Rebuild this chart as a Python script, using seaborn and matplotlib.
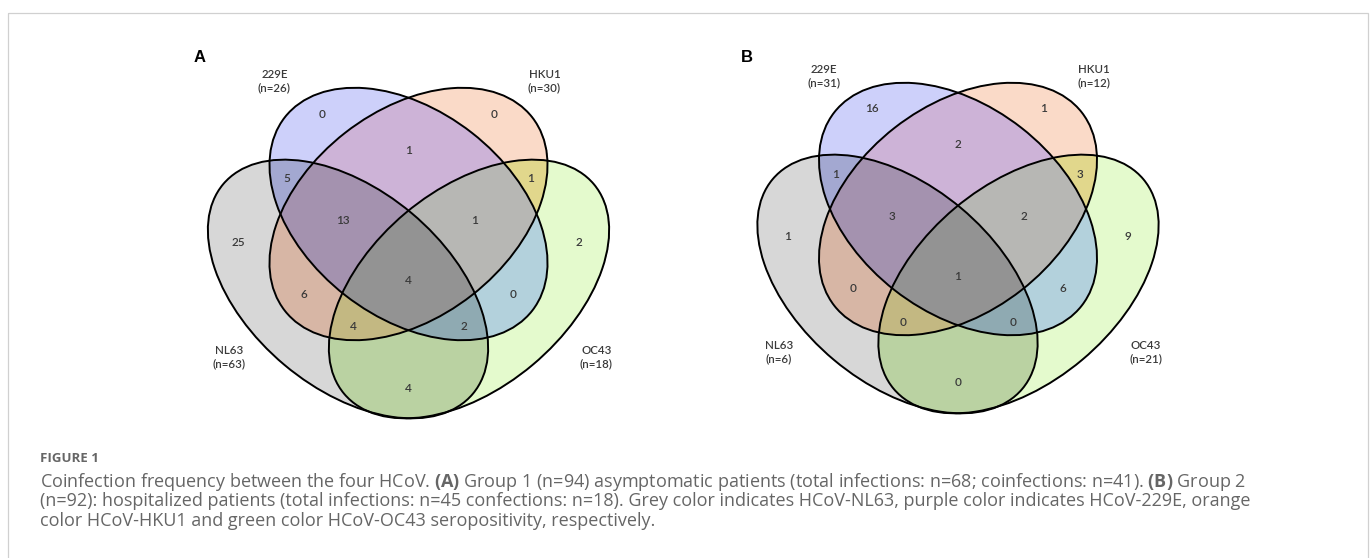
import matplotlib
matplotlib.use("Agg")
import matplotlib.colors as mcolors
import matplotlib.pyplot as plt
import numpy as np
import seaborn as sns
from matplotlib.patches import Ellipse, Rectangle

# 数据: 四种HCoV的血清阳性交叉频数
set_codes = ["E", "H", "N", "O"]
set_names = ["229E", "HKU1", "NL63", "OC43"]
totals_a = [26, 30, 63, 18]
totals_b = [31, 12, 6, 21]

region_keys = ["E", "H", "N", "O", "EH", "EN", "HO", "EHN", "EHO",
               "EHNO", "HN", "EO", "HNO", "ENO", "NO"]
counts_a = [0, 0, 25, 2, 1, 5, 1, 13, 1, 4, 6, 0, 4, 2, 4]
counts_b = [16, 1, 1, 9, 2, 1, 3, 3, 2, 1, 0, 6, 0, 0, 0]
panel_letters = ["A", "B"]

caption_lines = [
    "Coinfection frequency between the four HCoV. $\\mathbf{(A)}$ Group 1 (n=94) asymptomatic patients "
    "(total infections: n=68; coinfections: n=41). $\\mathbf{(B)}$ Group 2",
    "(n=92): hospitalized patients (total infections: n=45 confections: n=18). Grey color indicates "
    "HCoV-NL63, purple color indicates HCoV-229E, orange",
    "color HCoV-HKU1 and green color HCoV-OC43 seropositivity, respectively.",
]

# 样式 / 布局
region_colors = {
    "E": "#cdd0fa", "H": "#fadac8", "N": "#d8d8d8", "O": "#e4facd",
    "EH": "#cdb4d7", "EN": "#a3a8d2", "HO": "#e1d78c", "EHN": "#a592af",
    "EHO": "#b7b7b5", "EHNO": "#939393", "HN": "#d8b6a6", "EO": "#b4d2dc",
    "HNO": "#c3b982", "ENO": "#8faab2", "NO": "#bad3a2",
}
# ellipse (dx, dy, a, b, angle) relative to the central crossing of a diagram
ellipse_geo = [(0, 2, 157, 103, 38), (0, 2, 157, 103, -38),
               (-60.5, 77, 163, 99, 40), (60.5, 77, 163, 99, -40)]
centres = [(408.5, 212), (958, 207)]
letter_pos = [(200, 58), (747, 57)]
region_off = {
    "E": (-86, -98), "H": (86, -98), "EH": (0, -62),
    "EN": (-122, -33), "HO": (122, -33),
    "EHN": (-66, 9), "EHO": (66, 9),
    "N": (-170, 30), "O": (170, 30), "EHNO": (0, 69),
    "HN": (-105, 82), "EO": (105, 82),
    "HNO": (-55, 115), "ENO": (55, 115), "NO": (0, 176),
}
set_label_off = [(-134, -131), (136, -131), (-179, 145), (188, 145)]

sns.set_theme(style="white")
plt.rcParams["font.family"] = ["Lato", "DejaVu Sans"]
plt.rcParams["mathtext.fontset"] = "custom"
plt.rcParams["mathtext.rm"] = "Open Sans"
plt.rcParams["mathtext.bf"] = "Open Sans:bold"

fig = plt.figure(figsize=(13.72, 5.58), dpi=100)
ax = fig.add_axes([0, 0, 1, 1])
ax.set_xlim(0, 1372)
ax.set_ylim(558, 0)
ax.axis("off")


def draw_venn(cx, cy, counts, totals, letter, lpos):
    # region fills rasterised from the ellipse equations
    xs = np.arange(cx - 235, cx + 235, 0.5)
    ys = np.arange(cy - 140, cy + 220, 0.5)
    X, Y = np.meshgrid(xs + 0.25, ys + 0.25)
    member = []
    for dx, dy, a, b, ang in ellipse_geo:
        t = np.deg2rad(ang)
        px, py = X - (cx + dx), Y - (cy + dy)
        u = px * np.cos(t) + py * np.sin(t)
        v = -px * np.sin(t) + py * np.cos(t)
        member.append((u / a) ** 2 + (v / b) ** 2 <= 1)
    img = np.zeros(X.shape + (4,))
    for key, col in region_colors.items():
        mask = np.ones(X.shape, dtype=bool)
        for code, inside in zip(set_codes, member):
            mask &= inside if code in key else ~inside
        img[mask] = mcolors.to_rgba(col)
    ax.imshow(img, extent=(xs[0], xs[-1] + 0.5, ys[-1] + 0.5, ys[0]),
              interpolation="antialiased", zorder=1)

    for dx, dy, a, b, ang in ellipse_geo:
        ax.add_patch(Ellipse((cx + dx, cy + dy), 2 * a, 2 * b, angle=ang,
                             fill=False, ec="black", lw=1.4, zorder=2))

    for key, n in zip(region_keys, counts):
        ox, oy = region_off[key]
        ax.text(cx + ox, cy + oy, str(n), ha="center", va="center",
                fontsize=8.5, fontweight=600, color="#3a3a3a", zorder=3)

    for (ox, oy), name, n in zip(set_label_off, set_names, totals):
        ax.text(cx + ox, cy + oy, f"{name}\n(n={n})", ha="center", va="center",
                fontsize=8.3, fontweight=600, linespacing=1.3, color="#3a3a3a",
                zorder=3)

    ax.text(lpos[0], lpos[1], letter, ha="center", va="center", fontsize=12,
            fontweight="bold", family="Liberation Sans", color="black")


draw_venn(*centres[0], counts_a, totals_a, panel_letters[0], letter_pos[0])
draw_venn(*centres[1], counts_b, totals_b, panel_letters[1], letter_pos[1])

ax.set_xlim(0, 1372)
ax.set_ylim(558, 0)
ax.set_aspect("auto")

# 外框
ax.add_patch(Rectangle((8, 13), 1360, 600, fill=False, ec="#d0d0d0", lw=0.9,
                       clip_on=False))

ax.text(40, 459, "FIGURE 1", ha="left", va="center", fontsize=9.5,
        fontweight="bold", family="Open Sans", color="#666666")
for i, line in enumerate(caption_lines):
    ax.text(40, 482 + 19.5 * i, line, ha="left", va="center", fontsize=13,
            family="Open Sans", color="#666666")

fig.savefig("out.png", dpi=100)
plt.close(fig)
